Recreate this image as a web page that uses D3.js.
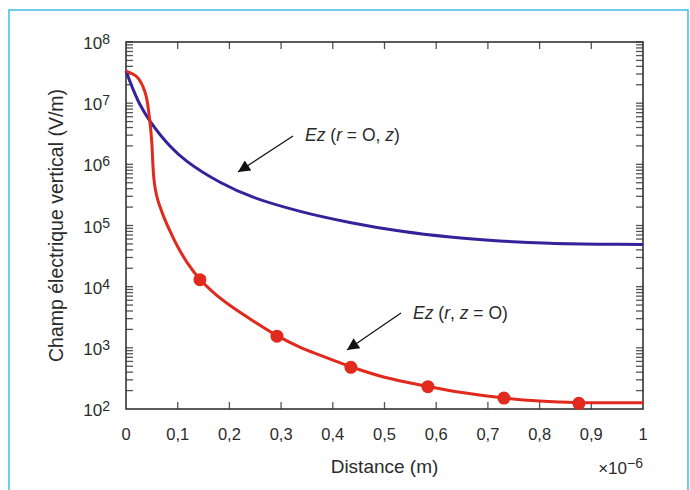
<!DOCTYPE html>
<html>
<head>
<meta charset="utf-8">
<script src="https://cdn.jsdelivr.net/npm/d3@7"></script>
<style>
  body { margin: 0; background: #fff; }
  text { font-family: "Liberation Sans", Arial, sans-serif; fill: #2b2b2b; }
</style>
</head>
<body>
<div id="chart"></div>
<script>
// Ez (r = O, z) : blue curve
const xBlue = [0, 0.0135, 0.027, 0.0464, 0.085, 0.118, 0.182, 0.246, 0.337, 0.433, 0.530, 0.627, 0.723, 0.820, 0.917, 1.0];
const eBlue = [3.35e7, 1.7e7, 9.5e6, 5.1e6, 2.0e6, 1.12e6, 5.1e5, 2.9e5, 1.7e5, 1.12e5, 8.1e4, 6.46e4, 5.6e4, 5.13e4, 4.95e4, 4.9e4];

// Ez (r, z = O) : red curve
const xRed = [0, 0.021, 0.037, 0.045, 0.050, 0.052, 0.054, 0.057, 0.061, 0.066, 0.074, 0.088, 0.100, 0.118, 0.143, 0.170, 0.200, 0.246, 0.292, 0.337, 0.375, 0.435, 0.500, 0.584, 0.650, 0.731, 0.800, 0.876, 0.940, 1.0];
const eRed = [3.35e7, 2.7e7, 1.5e7, 6.1e6, 2.2e6, 1.0e6, 5.8e5, 3.8e5, 2.7e5, 2.0e5, 1.32e5, 7.2e4, 4.5e4, 2.5e4, 1.32e4, 7.9e3, 5.0e3, 2.75e3, 1.58e3, 1.02e3, 760, 490, 330, 234, 186, 151, 135, 127, 126, 127];

// markers on the red curve
const xDots = [0.143, 0.292, 0.435, 0.584, 0.731, 0.876];
const eDots = [1.3e4, 1.55e3, 480, 232, 151, 124];

const xTicks = [0, 0.1, 0.2, 0.3, 0.4, 0.5, 0.6, 0.7, 0.8, 0.9, 1];
const yExps = [2, 3, 4, 5, 6, 7, 8];

const width = 690, height = 490;
const margin = { top: 42, right: 47, bottom: 81, left: 126 };

const svg = d3.select("#chart")
  .append("svg")
  .attr("width", width)
  .attr("height", height);

svg.append("rect").attr("width", width).attr("height", height).attr("fill", "#fff");

// light blue frame
svg.append("path")
  .attr("d", "M9," + height + "V10H688V" + height)
  .attr("fill", "none")
  .attr("stroke", "#3cbde8")
  .attr("stroke-width", 1.5);

const x = d3.scaleLinear()
  .domain([0, 1])
  .range([margin.left, width - margin.right]);
const y = d3.scaleLog()
  .domain([1e2, 1e8])
  .range([height - margin.bottom, margin.top]);

const x0 = x.range()[0], x1 = x.range()[1];
const y0 = y.range()[0], y1 = y.range()[1];

// ticks
const tickLen = 7;
const ticks = svg.append("g")
  .attr("stroke", "#555")
  .attr("stroke-width", 1.3);

xTicks.slice(1, -1).forEach(function (t) {
  ticks.append("line").attr("x1", x(t)).attr("x2", x(t)).attr("y1", y0).attr("y2", y0 - tickLen);
  ticks.append("line").attr("x1", x(t)).attr("x2", x(t)).attr("y1", y1).attr("y2", y1 + tickLen);
});

var minor = [];
yExps.slice(0, -1).forEach(function (e) {
  for (var k = 2; k <= 10; k++) minor.push(k * Math.pow(10, e));
});
minor.forEach(function (v) {
  ticks.append("line").attr("x1", x0).attr("x2", x0 + tickLen).attr("y1", y(v)).attr("y2", y(v));
  ticks.append("line").attr("x1", x1).attr("x2", x1 - tickLen).attr("y1", y(v)).attr("y2", y(v));
});

// frame of the plot
svg.append("rect")
  .attr("x", x0).attr("y", y1)
  .attr("width", x1 - x0).attr("height", y0 - y1)
  .attr("fill", "none")
  .attr("stroke", "#333")
  .attr("stroke-width", 1.6);

// x tick labels
svg.append("g").selectAll("text")
  .data(xTicks)
  .enter().append("text")
  .attr("x", function (d) { return x(d); })
  .attr("y", 440)
  .attr("text-anchor", "middle")
  .attr("font-size", "16.5px")
  .text(function (d) { return String(d).replace(".", ","); });

// y tick labels 10^n
const yLab = svg.append("g").selectAll("text")
  .data(yExps)
  .enter().append("text")
  .attr("x", 110)
  .attr("y", function (d) { return y(Math.pow(10, d)) + 7; })
  .attr("text-anchor", "end")
  .attr("font-size", "17px");
yLab.append("tspan").text("10");
yLab.append("tspan")
  .attr("font-size", "14px")
  .attr("dy", -5)
  .text(function (d) { return d; });

// axis titles
svg.append("text")
  .attr("x", (x0 + x1) / 2)
  .attr("y", 473)
  .attr("text-anchor", "middle")
  .attr("font-size", "19px")
  .text("Distance (m)");

svg.append("text")
  .attr("transform", "translate(63," + ((y0 + y1) / 2) + ") rotate(-90)")
  .attr("text-anchor", "middle")
  .attr("font-size", "19.5px")
  .text("Champ électrique vertical (V/m)");

const mult = svg.append("text")
  .attr("x", x1)
  .attr("y", 474)
  .attr("text-anchor", "end")
  .attr("font-size", "17px");
mult.append("tspan").text("×10");
mult.append("tspan").attr("font-size", "14px").attr("dy", -6).text("−6");

// curves
const line = d3.line()
  .x(function (d) { return x(d[0]); })
  .y(function (d) { return y(d[1]); })
  .curve(d3.curveCatmullRom.alpha(0.5));

svg.append("path")
  .datum(d3.zip(xBlue, eBlue))
  .attr("d", line)
  .attr("fill", "none")
  .attr("stroke", "#33239b")
  .attr("stroke-width", 3);

svg.append("path")
  .datum(d3.zip(xRed, eRed))
  .attr("d", line)
  .attr("fill", "none")
  .attr("stroke", "#e1291d")
  .attr("stroke-width", 3);

svg.append("g").selectAll("circle")
  .data(d3.zip(xDots, eDots))
  .enter().append("circle")
  .attr("cx", function (d) { return x(d[0]); })
  .attr("cy", function (d) { return y(d[1]); })
  .attr("r", 6.5)
  .attr("fill", "#e1291d");

// annotations
svg.append("defs").append("marker")
  .attr("id", "arrow")
  .attr("viewBox", "0 0 10 10")
  .attr("refX", 10).attr("refY", 5)
  .attr("markerWidth", 15).attr("markerHeight", 12)
  .attr("markerUnits", "userSpaceOnUse")
  .attr("orient", "auto")
  .append("path")
  .attr("d", "M0,0L10,5L0,10Z")
  .attr("fill", "#111");

function note(tx, ty, ax, ay, bx, by, parts) {
  svg.append("line")
    .attr("x1", ax).attr("y1", ay).attr("x2", bx).attr("y2", by)
    .attr("stroke", "#111")
    .attr("stroke-width", 1.2)
    .attr("marker-end", "url(#arrow)");
  var t = svg.append("text")
    .attr("x", tx).attr("y", ty)
    .attr("font-size", "17.5px")
    .attr("fill", "#222");
  parts.forEach(function (p) {
    t.append("tspan")
      .attr("font-style", p[1] ? "italic" : "normal")
      .text(p[0]);
  });
}

note(305, 141, 293, 136, 238, 172,
  [["Ez", 1], [" (", 0], ["r", 1], [" = O, ", 0], ["z", 1], [")", 0]]);
note(413, 319, 401, 313, 347, 350,
  [["Ez", 1], [" (", 0], ["r", 1], [", ", 0], ["z", 1], [" = O)", 0]]);
</script>
</body>
</html>
